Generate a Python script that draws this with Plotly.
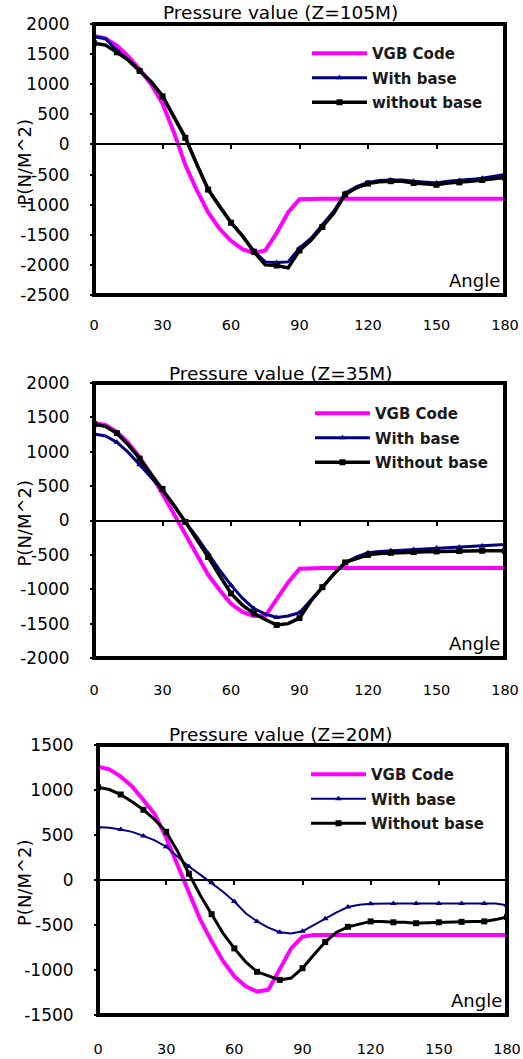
import plotly.graph_objects as go

W, H = 523, 1059

# ---------------- data ----------------
ANGLES = list(range(0, 181, 5))

# Panel 1: Z = 105 M
vgb_105 = [1800, 1760, 1640, 1460, 1250, 1000, 680, 200, -340, -760, -1130, -1400, -1600, -1740,
           -1800, -1760, -1470, -1130, -910, -900, -900, -900, -900, -900, -900, -900, -900,
           -900, -900, -900, -900, -900, -900, -900, -900, -900, -900]
with_105 = [1790, 1760, 1560, 1410, 1230, 1050, 810, 460, 120, -320, -740, -1020, -1290, -1510,
            -1770, -1950, -1960, -1950, -1720, -1560, -1340, -1110, -810, -700, -630, -600, -590,
            -590, -610, -620, -640, -610, -600, -580, -560, -530, -500]
without_105 = [1680, 1650, 1530, 1400, 1220, 1040, 800, 450, 110, -330, -750, -1030, -1300, -1520,
               -1780, -2000, -2010, -2050, -1760, -1590, -1370, -1140, -830, -720, -650, -620, -610,
               -610, -640, -650, -670, -640, -630, -610, -590, -570, -550]

# Panel 2: Z = 35 M
vgb_35 = [1420, 1390, 1290, 1130, 920, 670, 390, 90, -200, -490, -790, -1010, -1210, -1330,
          -1390, -1390, -1150, -900, -700, -690, -690, -690, -690, -690, -690, -690, -690,
          -690, -690, -690, -690, -690, -690, -690, -690, -690, -690]
with_35 = [1260, 1230, 1140, 990, 810, 630, 440, 220, -20, -240, -480, -720, -940, -1130,
           -1280, -1360, -1410, -1390, -1340, -1160, -970, -780, -610, -530, -470, -450, -440,
           -430, -420, -410, -400, -400, -390, -380, -370, -360, -350]
without_35 = [1400, 1370, 1270, 1100, 900, 680, 460, 220, -20, -270, -530, -800, -1060, -1230,
              -1350, -1440, -1520, -1500, -1420, -1170, -970, -780, -610, -560, -500, -480, -470,
              -465, -460, -455, -450, -450, -445, -445, -440, -440, -440]

# Panel 3: Z = 20 M
vgb_20 = [1260, 1230, 1150, 1040, 890, 730, 470, 170, -140, -440, -680, -900, -1070, -1180,
          -1240, -1220, -990, -760, -630, -610, -610, -610, -610, -610, -610, -610, -610,
          -610, -610, -610, -610, -610, -610, -610, -610, -610, -610]
with_20 = [590, 580, 560, 535, 490, 440, 370, 260, 150, 60, -30, -130, -240, -370,
           -460, -530, -580, -595, -570, -500, -430, -360, -300, -275, -265, -260, -260,
           -260, -260, -260, -260, -260, -260, -260, -260, -260, -280]
without_20 = [1030, 1005, 950, 870, 780, 670, 535, 320, 70, -170, -380, -590, -760, -910,
              -1020, -1065, -1110, -1090, -980, -830, -690, -580, -520, -490, -460, -460, -470,
              -470, -480, -475, -470, -470, -465, -460, -460, -440, -410]

X_TICKS = [0, 30, 60, 90, 120, 150, 180]
TITLES = ["Pressure value (Z=105M)", "Pressure value (Z=35M)", "Pressure value (Z=20M)"]
NAMES = [["VGB Code", "With base", "without base"],
         ["VGB Code", "With base", "Without base"],
         ["VGB Code", "With base", "Without base"]]
Y_RANGES = [(-2500, 2000), (-2000, 2000), (-1500, 1500)]
SERIES = [(vgb_105, with_105, without_105),
          (vgb_35, with_35, without_35),
          (vgb_20, with_20, without_20)]

# ---------------- layout geometry (pixels) ----------------
PANELS = [
    dict(y=(24, 295), x=(94, 505), title_y=13, legend=(307, 37), label_gap=29, lw=(3, 3.5)),
    dict(y=(383, 658), x=(94, 505), title_y=374, legend=(310, 397), label_gap=32, lw=(3, 3.5)),
    dict(y=(745, 1015), x=(98, 507), title_y=734, legend=(306, 758), label_gap=34, lw=(2, 3)),
]

FONT = "DejaVu Sans"
MAGENTA = "#FF00FF"
NAVY = "#000080"
BLACK = "#000000"

fig = go.Figure()
marker_pts = [i for i, a in enumerate(ANGLES) if a % 10 == 0]

layout = dict(
    template="none",
    width=W, height=H,
    margin=dict(l=0, r=0, t=0, b=0, pad=0, autoexpand=False),
    paper_bgcolor="white", plot_bgcolor="white",
    font=dict(family=FONT, color="black"),
    showlegend=True,
    shapes=[], annotations=[],
)

for k, (p, (vgb, wb, wob)) in enumerate(zip(PANELS, SERIES)):
    n = k + 1
    sfx = "" if n == 1 else str(n)
    xa, ya = "x" + sfx, "y" + sfx
    leg = "legend" + sfx
    names = NAMES[k]
    lw_blue, lw_black = p["lw"]

    fig.add_trace(go.Scatter(x=ANGLES, y=vgb, name=names[0], mode="lines",
                             line=dict(color=MAGENTA, width=4),
                             xaxis=xa, yaxis=ya, legend=leg, legendgroup=f"a{n}"))
    fig.add_trace(go.Scatter(x=ANGLES, y=wb, name=names[1], mode="lines+markers",
                             line=dict(color=NAVY, width=lw_blue),
                             marker=dict(symbol="triangle-up", size=6, color=NAVY),
                             selectedpoints=marker_pts,
                             unselected=dict(marker=dict(opacity=0)),
                             xaxis=xa, yaxis=ya, legend=leg, legendgroup=f"b{n}"))
    fig.add_trace(go.Scatter(x=ANGLES, y=wob, name=names[2], mode="lines+markers",
                             line=dict(color=BLACK, width=lw_black),
                             marker=dict(symbol="square", size=6, color=BLACK),
                             selectedpoints=marker_pts,
                             unselected=dict(marker=dict(opacity=0)),
                             xaxis=xa, yaxis=ya, legend=leg, legendgroup=f"c{n}"))

    y0px, y1px = p["y"]
    x0px, x1px = p["x"]
    ymin, ymax = Y_RANGES[k]
    ydom = [1 - y1px / H, 1 - y0px / H]
    xdom = [x0px / W, x1px / W]
    frac0 = (0 - ymin) / (ymax - ymin)
    zero_pos = ydom[0] + frac0 * (ydom[1] - ydom[0])
    zero_to_bottom_px = frac0 * (y1px - y0px)
    yticks = list(range(ymin, ymax + 1, 500))

    layout["xaxis" + sfx] = dict(
        domain=xdom, range=[0, 180], anchor="free", position=zero_pos,
        showline=True, linecolor="black", linewidth=2,
        ticks="outside", ticklen=4, tickwidth=2, tickcolor="black",
        tickmode="array", tickvals=X_TICKS, ticktext=[str(v) for v in X_TICKS],
        tickfont=dict(size=14.5, family=FONT, color="black"),
        ticklabelstandoff=int(round(zero_to_bottom_px + p["label_gap"] - 17)),
        showgrid=False, zeroline=False, fixedrange=True, automargin=False,
    )
    layout["yaxis" + sfx] = dict(
        domain=ydom, range=[ymin, ymax], anchor=xa,
        showline=False, ticks="outside", ticklen=3, tickwidth=2, tickcolor="black",
        tickmode="array", tickvals=yticks, ticktext=[str(v) for v in yticks],
        tickfont=dict(size=17, family=FONT, color="black"),
        ticklabelstandoff=17,
        showgrid=False, zeroline=False, fixedrange=True, automargin=False,
    )
    # plot frame
    layout["shapes"].append(dict(type="rect", xref=xa + " domain", yref=ya + " domain",
                                 x0=0, x1=1, y0=0, y1=1,
                                 line=dict(color="black", width=4), layer="above"))
    # titles / labels
    layout["annotations"].append(dict(text=TITLES[k], xref="paper", yref="paper",
                                      x=280 / W, y=1 - p["title_y"] / H,
                                      xanchor="center", yanchor="middle", showarrow=False,
                                      font=dict(size=18.5, family=FONT, color="black")))
    layout["annotations"].append(dict(text="P(N/M^2)", xref="paper", yref="paper",
                                      x=24 / W, y=1 - ((y0px + y1px) / 2 + 3) / H,
                                      textangle=-90, xanchor="center", yanchor="middle",
                                      showarrow=False,
                                      font=dict(size=18, family=FONT, color="black")))
    layout["annotations"].append(dict(text="Angle", xref=xa + " domain", yref=ya + " domain",
                                      x=1, y=0, xanchor="right", yanchor="bottom",
                                      xshift=-3, yshift=2, showarrow=False,
                                      font=dict(size=18, family=FONT, color="black")))
    lx, ly = p["legend"]
    layout[leg] = dict(x=lx / W, y=1 - ly / H, xanchor="left", yanchor="top",
                       bgcolor="rgba(255,255,255,0)", borderwidth=0,
                       itemwidth=55, tracegroupgap=2,
                       font=dict(size=15, family=FONT, color="#1a1a1a", weight="bold"))

fig.update_layout(**layout)
fig.write_html("out.html",
               config={"displayModeBar": False, "staticPlot": True},
               post_script="document.body.style.margin='0px';document.body.style.overflow='hidden';")
